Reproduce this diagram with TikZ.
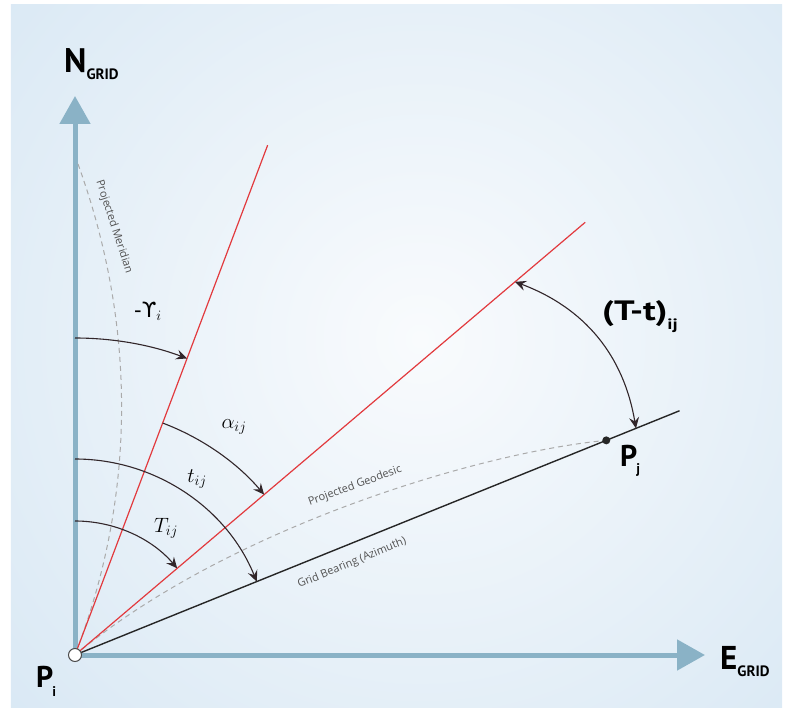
\documentclass[tikz,border=0pt]{standalone}
\usepackage{fontspec}
\setsansfont{Open Sans}
\newfontfamily\labelfont{PT Sans}
\newfontfamily\greekfont{DejaVu Sans}
\usepackage{xcolor}
\usetikzlibrary{arrows.meta}

\definecolor{axisblue}{RGB}{138,178,198}
\definecolor{bearingred}{RGB}{226,58,62}
\definecolor{arcgray}{RGB}{50,38,42}
\definecolor{dashgray}{RGB}{170,170,170}
\definecolor{glowin}{RGB}{249,251,253}
\definecolor{glowout}{RGB}{198,221,239}

\newcommand{\gridsub}[1]{\raisebox{-7pt}{\fontsize{15}{16}\selectfont #1}}

\begin{document}
\begin{tikzpicture}[x=1pt, y=1pt, >={Stealth[length=11pt,width=10pt,inset=4pt]},
  axis/.style={line width=5pt, axisblue, -{Triangle[length=28pt,width=30pt]}},
  redline/.style={bearingred, line width=1.2pt},
  gridline/.style={black!85, line width=1.4pt},
  anglearc/.style={arcgray, line width=1.1pt, ->},
  projline/.style={dashgray, line width=1pt, dash pattern=on 5pt off 4pt},
  smalltext/.style={font=\sffamily\fontsize{11}{12}\selectfont, text=black!68, inner sep=0pt},
  biglabel/.style={font=\labelfont\bfseries\fontsize{33}{36}\selectfont, inner sep=0pt, anchor=base west},
  mathlabel/.style={font=\fontsize{21}{24}\selectfont, inner sep=0pt}]
  \useasboundingbox (-75,-60) rectangle (716,655);
  % panel with a soft glow
  \begin{scope}
    \clip (-64,-52) rectangle (707,650);
    \fill[glowout] (-64,-52) rectangle (707,650);
    \shade[inner color=glowin, outer color=glowout] (345,316) circle (900);
  \end{scope}

  \coordinate (Pi) at (0,0);
  \coordinate (nEnd) at (0,559);
  \coordinate (eEnd) at (630,0);
  \coordinate (redA) at (69.3:545);
  \coordinate (redB) at (40.3:669);
  \coordinate (gridEnd) at (22:652);
  \coordinate (Pj) at (22:573);
  \coordinate (merTop) at (3,491);
  \coordinate (tdA) at (40.3:577);
  \coordinate (tdB) at (22:605);

  % axes
  \draw[axis] (Pi) -- (nEnd);
  \draw[axis] (Pi) -- (eEnd);

  % projected lines
  \draw[projline] (merTop) .. controls (65,320) and (58,150) .. (Pi);
  \draw[projline] (Pi) .. controls (150,125) and (400,202) .. (Pj);

  % bearings
  \draw[redline] (Pi) -- (redA);
  \draw[redline] (Pi) -- (redB);
  \draw[gridline] (Pi) -- (gridEnd);

  % angles
  \draw[anglearc] (90:317) arc[start angle=90, end angle=69.3, radius=317];
  \draw[anglearc] (69.3:248) arc[start angle=69.3, end angle=40.3, radius=248];
  \draw[anglearc] (90:196) arc[start angle=90, end angle=22, radius=196];
  \draw[anglearc] (90:134) arc[start angle=90, end angle=40.3, radius=134];
  \draw[anglearc, <->] (tdA) to[bend left=30] (tdB);

  \fill[black!85] (Pj) circle (4);
  \node[circle, draw=black!70, fill=white, line width=1pt, minimum size=13pt, inner sep=0pt] (PiDot) at (Pi) {};

  % labels
  \node[biglabel, font=\labelfont\bfseries\fontsize{34}{36}\selectfont] (nLabel) at (-11,582) {N\gridsub{GRID}};
  \node[biglabel] (eLabel) at (645,-14) {E\gridsub{GRID}};
  \node[biglabel, font=\labelfont\bfseries\fontsize{30}{32}\selectfont] (piLabel) at (-39,-32) {P\kern-1pt\raisebox{-9pt}{\fontsize{14}{14}\selectfont i}};
  \node[biglabel, font=\labelfont\bfseries\fontsize{30}{32}\selectfont] (pjLabel) at (545,189) {P\kern-1pt\raisebox{-7pt}{\fontsize{14}{14}\selectfont j}};
  \node[biglabel, font=\labelfont\bfseries\fontsize{28}{30}\selectfont\addfontfeature{FakeStretch=1.3}] (diffLabel) at (527,334) {(T-t)\raisebox{-9pt}{\fontsize{15}{16}\selectfont ij}};

  \node[mathlabel] (gammaLabel) at (73,344) {{\greekfont -ϒ}$_{i}$};
  \node[mathlabel] (alphaLabel) at (159,228) {$\alpha_{ij}$};
  \node[mathlabel] (tLabel) at (122,176) {$t_{ij}$};
  \node[mathlabel] (TLabel) at (91,127) {$T_{ij}$};

  \node[smalltext, rotate=-72] (meridianText) at (39,428) {Projected Meridian};
  \node[smalltext, rotate=20] (geodesicText) at (280,169) {Projected Geodesic};
  \node[smalltext, rotate=22.5] (bearingText) at (277,92) {Grid Bearing (Azimuth)};
\end{tikzpicture}
\end{document}
